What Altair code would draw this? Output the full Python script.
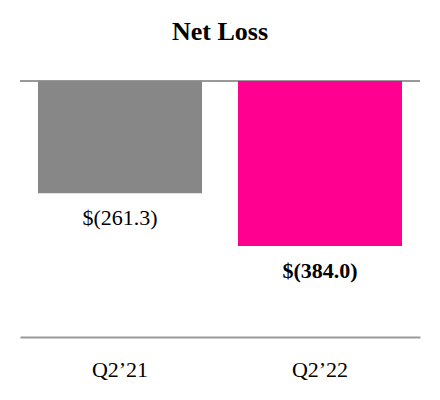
import altair as alt
import pandas as pd

quarters = ["Q2\u201921", "Q2\u201922"]
values = [-261.3, -384.0]
labels = ["$(261.3)", "$(384.0)"]
colors = ["#878787", "#FF0090"]
bold = [False, True]

df = pd.DataFrame({"quarter": quarters, "value": values, "label": labels, "bold": bold})

FONT = "Liberation Serif"

x = alt.X("quarter:N", sort=quarters,
          scale=alt.Scale(paddingInner=0.18, paddingOuter=0.09),
          axis=alt.Axis(title=None, ticks=False, labelAngle=0, labelFont=FONT,
                        labelFontSize=22, labelColor="#000000", labelPadding=22,
                        domainColor="#999999", domainWidth=2, grid=False))
y_scale = alt.Scale(domain=[-596, 0], nice=False, zero=False)

base = alt.Chart(df)

bars = base.mark_bar().encode(
    x=x,
    y=alt.Y("value:Q", scale=y_scale, axis=None),
    y2=alt.datum(0),
    color=alt.Color("quarter:N", scale=alt.Scale(domain=quarters, range=colors), legend=None),
)

txt_normal = base.transform_filter("!datum.bold").mark_text(
    font=FONT, fontSize=22, baseline="middle", dy=25, color="#000000"
).encode(x=x, y=alt.Y("value:Q", scale=y_scale, axis=None), text="label:N")

txt_bold = base.transform_filter("datum.bold").mark_text(
    font=FONT, fontSize=22, fontWeight="bold", baseline="middle", dy=25, color="#000000"
).encode(x=x, y=alt.Y("value:Q", scale=y_scale, axis=None), text="label:N")

top_rule = alt.Chart(pd.DataFrame({"v": [0]})).mark_rule(color="#999999", strokeWidth=2).encode(
    y=alt.Y("v:Q", scale=y_scale, axis=None)
)

chart = alt.layer(top_rule, bars, txt_normal, txt_bold).properties(
    width=400, height=256,
    autosize=alt.AutoSizeParams(type="none"),
    padding={"left": 12, "top": 73, "right": 12, "bottom": 55},
    title=alt.TitleParams("Net Loss", font=FONT, fontSize=26, fontWeight="bold",
                          color="#000000", anchor="middle", offset=35),
).configure_view(stroke=None)

chart.save("out.html", embed_options={"renderer": "svg", "actions": False})
